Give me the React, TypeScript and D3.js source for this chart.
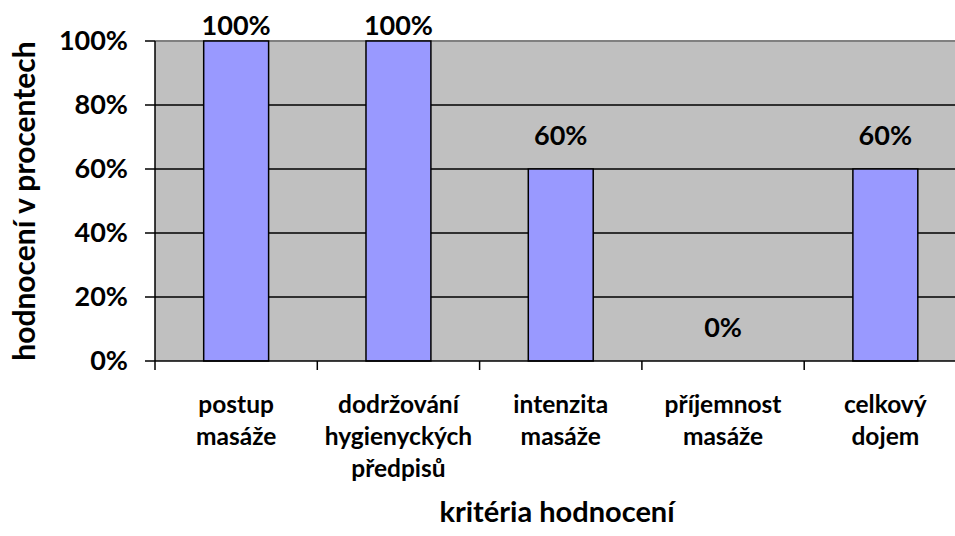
import { useEffect, useRef } from 'react';
import * as d3 from 'd3';

const categories = [
    ['postup', 'masáže'],
    ['dodržování', 'hygienyckých', 'předpisů'],
    ['intenzita', 'masáže'],
    ['příjemnost', 'masáže'],
    ['celkový', 'dojem'],
];
const values = [100, 100, 60, 0, 60];
const yTicks = [0, 20, 40, 60, 80, 100];

export default function App() {
    const svgRef = useRef<SVGSVGElement>(null);

    useEffect(() => {
        const width = 955;
        const height = 536;
        const left = 155;
        const top = 41;
        const bottom = 361;
        const band = 162.3;

        const svg = d3.select(svgRef.current).attr('width', width).attr('height', height);
        svg.selectAll('*').remove();

        const font = 'Lato, "Open Sans", sans-serif';

        const x = d3
            .scaleBand<number>()
            .domain(values.map((_, i) => i))
            .range([left, left + band * values.length])
            .paddingInner(0)
            .paddingOuter(0);

        const y = d3.scaleLinear().domain([0, 100]).range([bottom, top]);

        // Plot background
        svg.append('rect')
            .attr('x', left)
            .attr('y', top)
            .attr('width', width - left)
            .attr('height', bottom - top)
            .attr('fill', '#c0c0c0');

        svg.append('line')
            .attr('x1', left)
            .attr('x2', width)
            .attr('y1', top)
            .attr('y2', top)
            .attr('stroke', '#808080')
            .attr('stroke-width', 2);

        // Gridlines
        svg.append('g')
            .selectAll('line')
            .data(yTicks.filter((t) => t > 0 && t < 100))
            .enter()
            .append('line')
            .attr('x1', left)
            .attr('x2', width)
            .attr('y1', (d) => y(d))
            .attr('y2', (d) => y(d))
            .attr('stroke', '#000')
            .attr('stroke-width', 1.5);

        // Bars
        const barW = x.bandwidth() * 0.4;
        svg.append('g')
            .selectAll('rect')
            .data(values)
            .enter()
            .append('rect')
            .attr('x', (_, i) => (x(i) as number) + (x.bandwidth() - barW) / 2)
            .attr('y', (d) => y(d))
            .attr('width', barW)
            .attr('height', (d) => bottom - y(d))
            .attr('fill', '#9999ff')
            .attr('stroke', '#000')
            .attr('stroke-width', 1.5);

        // Value labels
        svg.append('g')
            .selectAll('text')
            .data(values)
            .enter()
            .append('text')
            .attr('x', (_, i) => (x(i) as number) + x.bandwidth() / 2)
            .attr('y', (d) => Math.max(y(d) - 24, 35))
            .attr('text-anchor', 'middle')
            .style('font-family', font)
            .style('font-weight', 'bold')
            .style('font-size', '27px')
            .attr('fill', '#000')
            .text((d) => `${d}%`);

        // Y axis
        const yAxis = svg.append('g');
        yAxis.append('line')
            .attr('x1', left)
            .attr('x2', left)
            .attr('y1', top)
            .attr('y2', bottom)
            .attr('stroke', '#000')
            .attr('stroke-width', 1.5);
        yAxis.selectAll('line.tick')
            .data(yTicks)
            .enter()
            .append('line')
            .attr('class', 'tick')
            .attr('x1', left - 10)
            .attr('x2', left)
            .attr('y1', (d) => y(d))
            .attr('y2', (d) => y(d))
            .attr('stroke', '#000')
            .attr('stroke-width', 1.5);
        yAxis.selectAll('text')
            .data(yTicks)
            .enter()
            .append('text')
            .attr('x', left - 27)
            .attr('y', (d) => y(d) + 9)
            .attr('text-anchor', 'end')
            .style('font-family', font)
            .style('font-weight', 'bold')
            .style('font-size', '27px')
            .text((d) => `${d}%`);

        // X axis
        const xAxis = svg.append('g');
        xAxis.append('line')
            .attr('x1', left)
            .attr('x2', width)
            .attr('y1', bottom)
            .attr('y2', bottom)
            .attr('stroke', '#000')
            .attr('stroke-width', 1.5);
        xAxis.selectAll('line.tick')
            .data(d3.range(values.length + 1))
            .enter()
            .append('line')
            .attr('class', 'tick')
            .attr('x1', (i) => left + i * x.bandwidth())
            .attr('x2', (i) => left + i * x.bandwidth())
            .attr('y1', bottom)
            .attr('y2', bottom + 9)
            .attr('stroke', '#000')
            .attr('stroke-width', 1.5);

        const labels = xAxis.selectAll('text.cat')
            .data(categories)
            .enter()
            .append('text')
            .attr('class', 'cat')
            .attr('text-anchor', 'middle')
            .style('font-family', font)
            .style('font-weight', 'bold')
            .style('font-size', '24.5px');
        labels.each(function (lines, i) {
            const t = d3.select(this);
            lines.forEach((line, j) => {
                t.append('tspan')
                    .attr('x', (x(i) as number) + x.bandwidth() / 2)
                    .attr('y', 413 + j * 32)
                    .text(line);
            });
        });

        // Axis titles
        svg.append('text')
            .attr('x', 557)
            .attr('y', 522)
            .attr('text-anchor', 'middle')
            .style('font-family', font)
            .style('font-weight', 'bold')
            .style('font-size', '29px')
            .text('kritéria hodnocení');

        svg.append('text')
            .attr('transform', `translate(35, 201) rotate(-90)`)
            .attr('text-anchor', 'middle')
            .style('font-family', font)
            .style('font-weight', 'bold')
            .style('font-size', '30px')
            .text('hodnocení v procentech');
    }, []);

    return (
        <div style={{ position: 'absolute', left: 0, top: 0 }}>
            <svg ref={svgRef}></svg>
        </div>
    );
}
